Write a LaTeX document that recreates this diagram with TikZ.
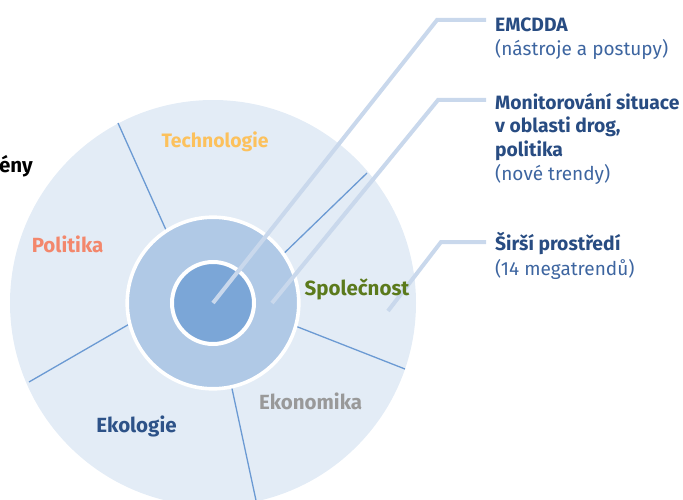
\documentclass[tikz,border=0pt]{standalone}
\usepackage{fontspec}
\setmainfont{Fira Sans}
\definecolor{bgc}{HTML}{E3ECF6}
\definecolor{midc}{HTML}{B0C9E6}
\definecolor{innc}{HTML}{7BA6D7}
\definecolor{divc}{HTML}{6B9AD3}
\definecolor{leadc}{HTML}{C9D8EC}
\definecolor{headc}{HTML}{284C82}
\definecolor{subc}{HTML}{3D65A0}
\definecolor{techc}{HTML}{FCC15C}
\definecolor{polc}{HTML}{F3876C}
\definecolor{spolc}{HTML}{5B7A1C}
\definecolor{ekonc}{HTML}{999999}
\definecolor{ekolc}{HTML}{2D5288}
\tikzset{
  divider/.style={draw=divc, line width=1.3},
  leader/.style={draw=leadc, line width=4},
  seglabel/.style={anchor=base, inner sep=0, font=\fontsize{20.5}{24}\selectfont\bfseries},
  headtxt/.style={anchor=base west, inner sep=0, text=headc, font=\fontsize{19.3}{23}\selectfont\bfseries},
  subtxt/.style={anchor=base west, inner sep=0, text=subc, font=\fontsize{19}{23}\selectfont},
}
\begin{document}
\begin{tikzpicture}[x=1pt,y=-1pt]
\useasboundingbox (0,0) rectangle (683,500);
\clip (0,0) rectangle (683,500);
\coordinate (c) at (213,303);
% outer circle
\fill[bgc] (c) circle (203);
% dividers
\coordinate (d1a) at (175,250); \coordinate (d1b) at (118,123);
\coordinate (d2a) at (275,262); \coordinate (d2b) at (367,173);
\coordinate (d3a) at (280,320); \coordinate (d3b) at (405,369);
\coordinate (d4a) at (228,370); \coordinate (d4b) at (257,505);
\coordinate (d5a) at (145,315); \coordinate (d5b) at (29,382);
\draw[divider] (d1a) -- (d1b);
\draw[divider] (d2a) -- (d2b);
\draw[divider] (d3a) -- (d3b);
\draw[divider] (d4a) -- (d4b);
\draw[divider] (d5a) -- (d5b);
% middle and inner circles
\filldraw[fill=midc, draw=white, line width=3.6] (c) circle (85.8);
\filldraw[fill=innc, draw=white, line width=4] (c) circle (41);
% leader lines
\coordinate (l1a) at (213,303); \coordinate (l1b) at (437,20); \coordinate (l1c) at (486,20);
\coordinate (l2a) at (272,303); \coordinate (l2b) at (438,100); \coordinate (l2c) at (486,100);
\coordinate (l3a) at (388,311); \coordinate (l3b) at (441,242); \coordinate (l3c) at (486,242);
\draw[leader] (l1a) -- (l1b) -- (l1c);
\draw[leader] (l2a) -- (l2b) -- (l2c);
\draw[leader] (l3a) -- (l3b) -- (l3c);
% segment labels
\node[seglabel, text=techc, font=\fontsize{19.4}{24}\selectfont\bfseries] (tech) at (215,148) {Technologie};
\node[seglabel, text=polc] (pol) at (67.5,252) {Politika};
\node[seglabel, text=spolc] (spol) at (357,295) {Společnost};
\node[seglabel, text=ekonc] (ekon) at (310.5,409) {Ekonomika};
\node[seglabel, text=ekolc] (ekol) at (136.5,432) {Ekologie};
% cut-off title
\node[anchor=base east, inner sep=0, font=\fontsize{20.5}{24}\selectfont\bfseries, text=black] (ttl) at (33,172) {ény};
% right texts
\node[headtxt] (emc1) at (495,32) {EMCDDA};
\node[subtxt] (emc2) at (495,56) {(nástroje a postupy)};
\node[headtxt] (mon1) at (495,110) {Monitorování situace};
\node[headtxt] (mon2) at (495,133) {v oblasti drog,};
\node[headtxt] (mon3) at (495,157) {politika};
\node[subtxt] (mon4) at (495,180) {(nové trendy)};
\node[headtxt] (sir1) at (495,250) {Širší prostředí};
\node[subtxt] (sir2) at (495,275) {(14 megatrendů)};
\end{tikzpicture}
\end{document}
